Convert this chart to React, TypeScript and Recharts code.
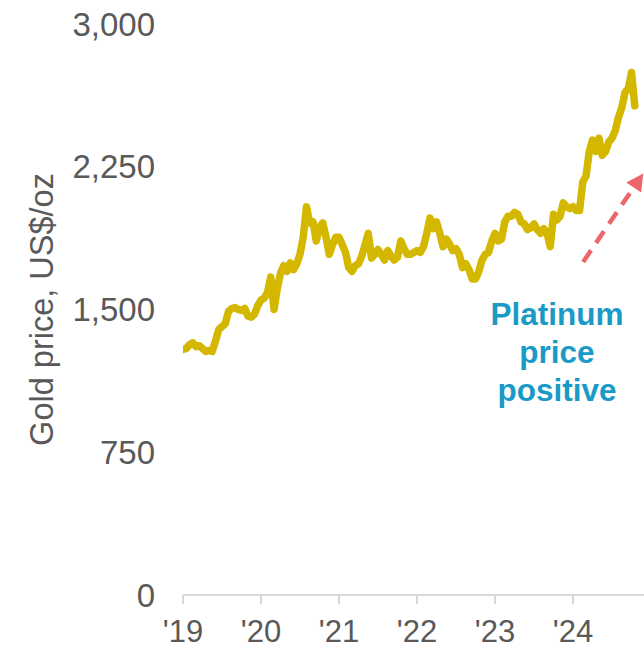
import { LineChart, Line, XAxis, YAxis, ReferenceLine } from 'recharts'

// Gold price, semi-monthly readings (US$/oz), one array per year
const gold2019 = [1290, 1295, 1315, 1325, 1305, 1310, 1295, 1280, 1285, 1280, 1335, 1395, 1410, 1425, 1490, 1505, 1510, 1500, 1495, 1505, 1465, 1460, 1475, 1520]
const gold2020 = [1550, 1560, 1590, 1670, 1500, 1610, 1690, 1730, 1700, 1745, 1710, 1740, 1790, 1880, 2040, 1955, 1960, 1860, 1930, 1955, 1880, 1790, 1840, 1880]
const gold2021 = [1880, 1840, 1800, 1720, 1700, 1730, 1740, 1780, 1840, 1900, 1770, 1790, 1815, 1790, 1760, 1810, 1780, 1760, 1775, 1860, 1820, 1790, 1790, 1800]
const gold2022 = [1810, 1800, 1830, 1900, 1980, 1925, 1960, 1900, 1830, 1870, 1845, 1810, 1820, 1790, 1720, 1740, 1710, 1660, 1660, 1700, 1760, 1790, 1800, 1860]
const gold2023 = [1900, 1860, 1870, 1960, 1990, 1990, 2010, 2000, 1960, 1950, 1920, 1930, 1950, 1920, 1900, 1925, 1900, 1830, 2000, 1970, 1990, 2060, 2040, 2030]
const gold2024 = [2040, 2020, 2020, 2170, 2200, 2330, 2390, 2330, 2400, 2310, 2330, 2380, 2400, 2440, 2510, 2560, 2640, 2660, 2745, 2570]

const years = [2019, 2020, 2021, 2022, 2023, 2024]
const priceTicks = [0, 750, 1500, 2250, 3000]

// dashed "platinum positive" arrow, in data units
const arrowFrom = { x: 2024.13, y: 1750 }
const arrowTo = { x: 2024.9, y: 2215 }

const GOLD = '#d4b800'
const GREY = '#595959'
const AXIS = '#d9d9d9'
const ARROW = '#ec6669'
const TEAL = '#1a9ac6'
const FONT = '"Liberation Sans", Arial, sans-serif'

const perYear = [gold2019, gold2020, gold2021, gold2022, gold2023, gold2024]
const data = perYear.flatMap((vals, k) =>
  vals.map((price, i) => ({ t: years[k] + i / 24, price })),
)

function ArrowShape(props: any) {
  const { x1, y1, x2, y2 } = props
  if (x1 == null) return null
  const dx = x2 - x1
  const dy = y2 - y1
  const len = Math.hypot(dx, dy)
  const ux = dx / len
  const uy = dy / len
  const head = 17
  const half = 9
  const bx = x2 - ux * head
  const by = y2 - uy * head
  const pts = `${x2},${y2} ${bx - uy * half},${by + ux * half} ${bx + uy * half},${by - ux * half}`
  return (
    <g>
      <line x1={x1} y1={y1} x2={bx + ux * 2} y2={by + uy * 2} stroke={ARROW} strokeWidth={4.5} strokeDasharray="14 9" />
      <polygon points={pts} fill={ARROW} />
    </g>
  )
}

function AxisTitle({ viewBox }: any) {
  const cx = 42
  const cy = viewBox ? viewBox.y + viewBox.height / 2 : 309
  return (
    <text
      x={cx}
      y={cy}
      transform={`rotate(-90, ${cx}, ${cy})`}
      textAnchor="middle"
      dominantBaseline="central"
      fill={GREY}
      fontSize={32.5}
      fontFamily={FONT}
    >
      Gold price, US$/oz
    </text>
  )
}

export default function App() {
  return (
    <div style={{ position: 'absolute', left: 0, top: 0, width: 644, height: 649, background: '#fff', fontFamily: FONT }}>
      <LineChart width={644} height={649} data={data} margin={{ top: 24, right: 0, left: 0, bottom: 0 }}>
        <XAxis
          dataKey="t"
          type="number"
          domain={[2019, 2024.91]}
          ticks={years}
          allowDataOverflow
          tickFormatter={(v) => `'${String(v).slice(2)}`}
          height={54}
          tick={{ fontSize: 31, fill: GREY, fontFamily: FONT }}
          axisLine={{ stroke: AXIS, strokeWidth: 2 }}
          tickLine={{ stroke: AXIS, strokeWidth: 2 }}
          tickSize={9}
          tickMargin={16}
        />
        <YAxis
          domain={[0, 3000]}
          ticks={priceTicks}
          width={183}
          tick={{ fontSize: 33, fill: GREY, fontFamily: FONT }}
          tickFormatter={(v) => v.toLocaleString('en-US')}
          axisLine={false}
          tickLine={false}
          tickSize={6}
          tickMargin={22}
          label={{ content: <AxisTitle /> }}
        />
        <Line
          type="linear"
          dataKey="price"
          stroke={GOLD}
          strokeWidth={7.5}
          strokeLinejoin="round"
          strokeLinecap="round"
          dot={false}
          isAnimationActive={false}
        />
        <ReferenceLine
          segment={[arrowFrom, arrowTo]}
          ifOverflow="visible"
          shape={ArrowShape}
        />
      </LineChart>
      <div
        style={{
          position: 'absolute',
          left: 457,
          top: 295,
          width: 200,
          textAlign: 'center',
          color: TEAL,
          fontWeight: 'bold',
          fontSize: 31.5,
          lineHeight: '38px',
        }}
      >
        Platinum
        <br />
        price
        <br />
        positive
      </div>
    </div>
  )
}
